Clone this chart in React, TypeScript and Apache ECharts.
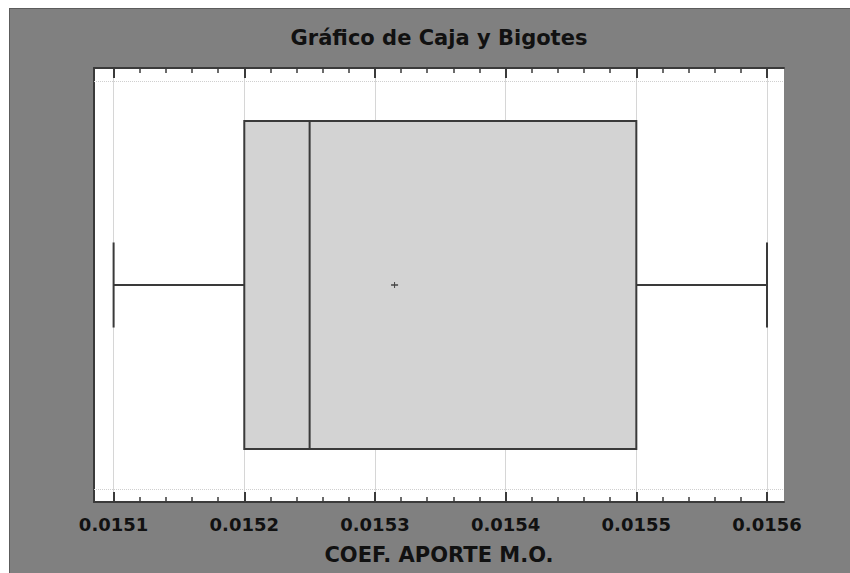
import React, { useEffect, useRef } from "react";
import * as echarts from "echarts";

// ---- data ----
const chartTitle = "Gráfico de Caja y Bigotes";
const axisName = "COEF. APORTE M.O.";
// min, Q1, median, Q3, max
const boxStats = [0.0151, 0.0152, 0.01525, 0.0155, 0.0156];
const meanValues = [0.015315];
const boxCenter = [0.5];
const majorTicks = [0.0151, 0.0152, 0.0153, 0.0154, 0.0155, 0.0156];
const axisMin = 0.015085;
const axisMax = 0.015613;
const minorPerMajor = 5;
const hGridLines = [0.03, 0.968];

const minorTicks: number[] = [];
for (let i = 0; i < majorTicks.length - 1; i++) {
  const a = majorTicks[i];
  const b = majorTicks[i + 1];
  for (let k = 1; k < minorPerMajor; k++) {
    minorTicks.push(+(a + ((b - a) * k) / minorPerMajor).toFixed(6));
  }
}

const BOX_HALF = 0.378;
const CAP_HALF = 0.098;
const DARK = "#3a3a3a";
const FONT = "DejaVu Sans";

export default function App() {
  const ref = useRef<HTMLDivElement>(null);

  useEffect(() => {
    if (!ref.current) return;
    const chart = echarts.init(ref.current, undefined, { renderer: "svg" });

    const baseX = {
      type: "value" as const,
      min: axisMin,
      max: axisMax,
      gridIndex: 0,
    };

    chart.setOption({
      animation: false,
      backgroundColor: "transparent",
      title: {
        text: chartTitle,
        left: 434,
        top: 22,
        textAlign: "center",
        textStyle: { fontFamily: FONT, fontWeight: "bold", fontSize: 21, color: "#111" },
      },
      grid: {
        left: 94,
        right: 66,
        top: 68,
        bottom: 71,
        show: true,
        backgroundColor: "#ffffff",
        borderWidth: 0,
      },
      xAxis: [
        {
          ...baseX,
          position: "bottom",
          name: axisName,
          nameLocation: "middle",
          nameGap: 42,
          nameTextStyle: { fontFamily: FONT, fontWeight: "bold", fontSize: 21, color: "#111" },
          axisLine: { show: true, lineStyle: { color: DARK, width: 2 } },
          axisTick: {
            show: true,
            inside: true,
            length: 10,
            customValues: majorTicks,
            lineStyle: { color: DARK, width: 2 },
          },
          axisLabel: {
            show: true,
            customValues: majorTicks,
            margin: 13,
            formatter: (v: number) => v.toFixed(4),
            fontFamily: FONT,
            fontWeight: "bold",
            fontSize: 18,
            color: "#111",
          },
          splitLine: { show: true, lineStyle: { color: "#d6d6d6", width: 1 } },
        },
        {
          ...baseX,
          position: "bottom",
          axisLine: { show: false },
          axisTick: {
            show: true,
            inside: true,
            length: 5,
            customValues: minorTicks,
            lineStyle: { color: DARK, width: 1.5 },
          },
          axisLabel: { show: false },
          splitLine: { show: false },
        },
        {
          ...baseX,
          position: "top",
          axisLine: { show: true, lineStyle: { color: DARK, width: 2 } },
          axisTick: {
            show: true,
            inside: true,
            length: 10,
            customValues: majorTicks,
            lineStyle: { color: DARK, width: 2 },
          },
          axisLabel: { show: false },
          splitLine: { show: false },
        },
        {
          ...baseX,
          position: "top",
          axisLine: { show: false },
          axisTick: {
            show: true,
            inside: true,
            length: 5,
            customValues: minorTicks,
            lineStyle: { color: DARK, width: 1.5 },
          },
          axisLabel: { show: false },
          splitLine: { show: false },
        },
      ],
      yAxis: {
        type: "value",
        min: 0,
        max: 1,
        axisLine: { show: true, lineStyle: { color: DARK, width: 2 } },
        axisTick: { show: false },
        axisLabel: { show: false },
        splitLine: { show: false },
      },
      series: [
        {
          type: "custom",
          xAxisIndex: 0,
          yAxisIndex: 0,
          encode: { x: [0, 1, 2, 3, 4, 5], y: 6 },
          data: [[...boxStats, meanValues[0], boxCenter[0]]],
          renderItem: (params: any, api: any) => {
            const lo = api.value(0);
            const q1 = api.value(1);
            const md = api.value(2);
            const q3 = api.value(3);
            const hi = api.value(4);
            const mn = api.value(5);
            const yc = api.value(6);
            const P = (x: number, y: number) => api.coord([x, y]);
            const [xq1, yTop] = P(q1, yc + BOX_HALF);
            const [xq3, yBot] = P(q3, yc - BOX_HALF);
            const [xlo, ym] = P(lo, yc);
            const [xhi] = P(hi, yc);
            const [xmd] = P(md, yc);
            const [xmn] = P(mn, yc);
            const capTop = P(lo, yc + CAP_HALF)[1];
            const capBot = P(lo, yc - CAP_HALF)[1];
            const st = { stroke: DARK, lineWidth: 2 };
            return {
              type: "group",
              children: [
                { type: "line", shape: { x1: xlo, y1: ym, x2: xq1, y2: ym }, style: st },
                { type: "line", shape: { x1: xq3, y1: ym, x2: xhi, y2: ym }, style: st },
                { type: "line", shape: { x1: xlo, y1: capTop, x2: xlo, y2: capBot }, style: st },
                { type: "line", shape: { x1: xhi, y1: capTop, x2: xhi, y2: capBot }, style: st },
                {
                  type: "rect",
                  shape: { x: xq1, y: yTop, width: xq3 - xq1, height: yBot - yTop },
                  style: { fill: "#d3d3d3", stroke: DARK, lineWidth: 2 },
                },
                { type: "line", shape: { x1: xmd, y1: yTop, x2: xmd, y2: yBot }, style: st },
                {
                  type: "line",
                  shape: { x1: xmn - 3.5, y1: ym, x2: xmn + 3.5, y2: ym },
                  style: { stroke: "#444", lineWidth: 1.5 },
                },
                {
                  type: "line",
                  shape: { x1: xmn, y1: ym - 3, x2: xmn, y2: ym + 3 },
                  style: { stroke: "#444", lineWidth: 1 },
                },
              ],
            };
          },
          markLine: {
            silent: true,
            symbol: "none",
            label: { show: false },
            lineStyle: { color: "#cfcfcf", type: "dotted", width: 1 },
            data: hGridLines.map((v) => ({ yAxis: v })),
          },
          z: 5,
        },
      ],
    });

    return () => chart.dispose();
  }, []);

  return (
    <div style={{ position: "fixed", left: 0, top: 0, width: 850, height: 573, background: "#ffffff" }}>
      <div
        style={{
          position: "absolute",
          left: 9,
          top: 8,
          right: 0,
          bottom: 0,
          background: "#808080",
          borderLeft: "1px solid #5c5c5c",
          borderTop: "1px solid #5c5c5c",
        }}
      />
      <div ref={ref} style={{ position: "absolute", left: 0, top: 0, width: 850, height: 573 }} />
    </div>
  );
}
